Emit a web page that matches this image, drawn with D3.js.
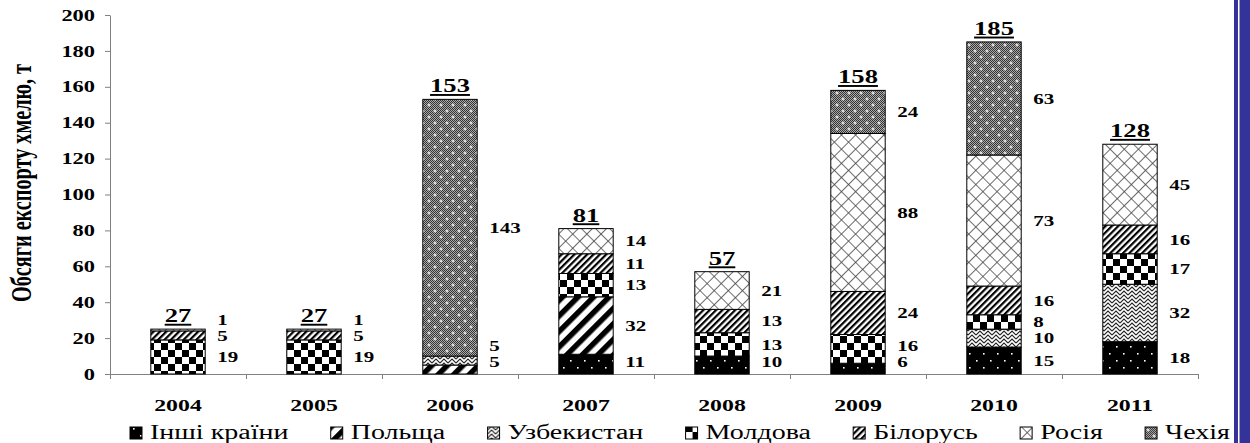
<!DOCTYPE html>
<html>
<head>
<meta charset="utf-8">
<script src="https://cdn.jsdelivr.net/npm/d3@7"></script>
<style>
  body { margin: 0; background: #fff; }
  svg { display: block; }
  svg text { font-family: "Liberation Serif", "Times New Roman", serif !important; fill: #000; }
</style>
</head>
<body>
<svg id="chart" width="1250" height="443"></svg>
<script>
// data, stacked bottom -> top in the order of `countries`
const years = ['2004', '2005', '2006', '2007', '2008', '2009', '2010', '2011']
const countries = ['Інші країни', 'Польща', 'Узбекистан', 'Молдова', 'Білорусь', 'Росія', 'Чехія']
const inshi      = [0, 0, 0, 11, 10, 6, 15, 18]
const polshcha   = [0, 0, 5, 32, 0, 0, 0, 0]
const uzbekystan = [0, 0, 5, 0, 0, 0, 10, 32]
const moldova    = [19, 19, 0, 13, 13, 16, 8, 17]
const bilorus    = [5, 5, 0, 11, 13, 24, 16, 16]
const rosia      = [1, 1, 0, 14, 21, 88, 73, 45]
const chekhia    = [0, 0, 143, 0, 0, 24, 63, 0]
const totals     = [27, 27, 153, 81, 57, 158, 185, 128]
const yTicks     = [0, 20, 40, 60, 80, 100, 120, 140, 160, 180, 200]
const yTitle     = 'Обсяги експорту хмелю, т'

const series = [inshi, polshcha, uzbekystan, moldova, bilorus, rosia, chekhia]
const patIds = ['p-inshi', 'p-pol', 'p-uzb', 'p-mol', 'p-bil', 'p-ros', 'p-che']

const rows = years.map((yr, i) => {
  const r = { year: yr }
  countries.forEach((c, k) => { r[c] = series[k][i] })
  return r
})

const SX = 1.4   // the source picture is stretched horizontally, so is the text
const plotL = 110, plotR = 1198, plotT = 15, plotB = 374

const svg = d3.select('#chart')
const defs = svg.append('defs')

// ---- fill patterns ----
function pattern(id, w, h, rot) {
  const p = defs.append('pattern').attr('id', id)
    .attr('patternUnits', 'userSpaceOnUse').attr('width', w).attr('height', h)
  if (rot) p.attr('patternTransform', `rotate(${rot})`)
  return p
}

let p = pattern('p-inshi', 14, 14)
p.append('rect').attr('width', 14).attr('height', 14).attr('fill', '#000')
p.append('rect').attr('x', 3).attr('y', 3).attr('width', 1.6).attr('height', 1.6).attr('fill', '#fff')
p.append('rect').attr('x', 10).attr('y', 10).attr('width', 1.6).attr('height', 1.6).attr('fill', '#fff')

p = pattern('p-pol', 11, 11, 45)
p.append('rect').attr('width', 11).attr('height', 11).attr('fill', '#fff')
p.append('rect').attr('width', 5.5).attr('height', 11).attr('fill', '#000')

p = pattern('p-uzb', 8, 8)
p.append('rect').attr('width', 8).attr('height', 8).attr('fill', '#fff')
p.append('path').attr('d', 'M0,3 L4,-1 L8,3 M0,7 L4,3 L8,7 M0,11 L4,7 L8,11')
  .attr('fill', 'none').attr('stroke', '#222').attr('stroke-width', 1.1)

p = pattern('p-mol', 14, 14)
p.append('rect').attr('width', 14).attr('height', 14).attr('fill', '#fff')
p.append('rect').attr('width', 7).attr('height', 7).attr('fill', '#000')
p.append('rect').attr('x', 7).attr('y', 7).attr('width', 7).attr('height', 7).attr('fill', '#000')

p = pattern('p-bil', 4.5, 4.5, 45)
p.append('rect').attr('width', 4.5).attr('height', 4.5).attr('fill', '#fff')
p.append('rect').attr('width', 2.2).attr('height', 4.5).attr('fill', '#000')

p = pattern('p-ros', 10, 10, 45)
p.append('rect').attr('width', 10).attr('height', 10).attr('fill', '#fff')
p.append('path').attr('d', 'M0,0 H10 M0,0 V10').attr('stroke', '#444').attr('stroke-width', 1.6)

p = pattern('p-dither', 2, 2)
p.append('rect').attr('width', 2).attr('height', 2).attr('fill', '#aaa')
p.append('rect').attr('width', 1).attr('height', 1).attr('fill', '#333')
p.append('rect').attr('x', 1).attr('y', 1).attr('width', 1).attr('height', 1).attr('fill', '#333')

p = pattern('p-che', 12, 12)
p.append('rect').attr('width', 12).attr('height', 12).attr('fill', 'url(#p-dither)')
p.append('path').attr('d', 'M3,1.5 V4.5 M1.5,3 H4.5 M9,7.5 V10.5 M7.5,9 H10.5')
  .attr('stroke', '#fff').attr('stroke-width', 1)

// ---- scales ----
const x = d3.scaleBand().domain(years).range([plotL, plotR]).paddingInner(0.6).paddingOuter(0.3)
const xt = d3.scaleLinear().domain([0, years.length]).range([plotL, plotR])
const y = d3.scaleLinear().domain([0, 200]).range([plotB, plotT])

const stacked = d3.stack().keys(countries)(rows)

// ---- axes ----
const yAxis = svg.append('g').attr('transform', `translate(${plotL},0)`)
  .call(d3.axisLeft(y).tickValues(yTicks).tickSize(5).tickSizeOuter(0))
yAxis.attr('font-family', null)
yAxis.select('.domain').attr('stroke', '#808080')
yAxis.selectAll('.tick line').attr('stroke', '#808080')
yAxis.selectAll('.tick text')
  .attr('x', -15 / SX).attr('transform', `scale(${SX},1)`)
  .style('font-size', '16px').style('font-weight', 'bold')

const xAxis = svg.append('g').attr('transform', `translate(0,${plotB})`)
  .call(d3.axisBottom(xt).tickValues(d3.range(years.length + 1)).tickFormat('').tickSize(5).tickSizeOuter(0))
xAxis.select('.domain').attr('stroke', '#808080')
xAxis.selectAll('.tick line').attr('stroke', '#808080')

svg.append('g').selectAll('text').data(years).join('text')
  .attr('transform', d => `translate(${x(d) + x.bandwidth() / 2},${plotB + 37}) scale(${SX},1)`)
  .attr('text-anchor', 'middle')
  .style('font-size', '17px').style('font-weight', 'bold')
  .text(d => d)

// ---- bars ----
svg.append('g').selectAll('g').data(stacked).join('g')
  .attr('fill', (d, i) => `url(#${patIds[i]})`)
  .selectAll('rect').data(d => d.filter(s => s[1] > s[0])).join('rect')
  .attr('x', d => x(d.data.year))
  .attr('y', d => y(d[1]))
  .attr('width', x.bandwidth())
  .attr('height', d => y(d[0]) - y(d[1]))
  .attr('stroke', '#000').attr('stroke-width', 1)

// ---- value labels, pushed apart when segments are thin ----
const labels = []
years.forEach((yr, i) => {
  let prev = Infinity
  stacked.forEach(s => {
    const seg = s[i]
    const v = seg[1] - seg[0]
    if (v <= 0) return
    const cy = Math.min((y(seg[0]) + y(seg[1])) / 2, plotB - 12, prev - 16)
    prev = cy
    labels.push({ year: yr, v: v, cy: cy })
  })
})
svg.append('g').selectAll('text').data(labels).join('text')
  .attr('transform', d => `translate(${x(d.year) + x.bandwidth() + 12},${d.cy}) scale(${SX},1)`)
  .attr('dy', '0.35em')
  .style('font-size', '15px').style('font-weight', 'bold')
  .text(d => d.v)

svg.append('g').selectAll('text').data(years).join('text')
  .attr('transform', (d, i) => `translate(${x(d) + x.bandwidth() / 2},${y(d3.sum(series, s => s[i])) - 7}) scale(${SX},1)`)
  .attr('text-anchor', 'middle')
  .style('font-size', '19px').style('font-weight', 'bold').style('text-decoration', 'underline')
  .text((d, i) => totals[i])

// ---- y title ----
svg.append('text')
  .attr('transform', `translate(31,183) scale(${SX},1) rotate(-90)`)
  .attr('text-anchor', 'middle')
  .attr('textLength', 238).attr('lengthAdjust', 'spacingAndGlyphs')
  .style('font-size', '21px').style('font-weight', 'bold')
  .text(yTitle)

// ---- legend ----
const items = svg.append('g').selectAll('g').data(countries).join('g')
items.append('rect').attr('width', 12).attr('height', 12).attr('y', -12)
  .attr('fill', (d, i) => `url(#${patIds[i]})`).attr('stroke', '#000')
items.append('text').attr('x', 0)
  .style('font-size', '20px')
  .text(d => d)
const widths = []
items.selectAll('text').each(function () { widths.push(this.getComputedTextLength() * SX) })
const legStart = 130, legEnd = 1230
const used = d3.sum(widths) + countries.length * 20
const gap = (legEnd - legStart - used) / (countries.length - 1)
let cx = legStart
items.each(function (d, i) {
  const g = d3.select(this)
  g.attr('transform', `translate(${cx},439)`)
  g.select('text').attr('transform', `translate(20,0) scale(${SX},1)`)
  cx += 20 + widths[i] + gap
})

// ---- blue page edge ----
svg.append('rect').attr('x', 1234).attr('y', 0).attr('width', 16).attr('height', 443).attr('fill', '#333399')
svg.append('rect').attr('x', 1238).attr('y', 0).attr('width', 1.5).attr('height', 443).attr('fill', '#fff')
</script>
</body>
</html>
